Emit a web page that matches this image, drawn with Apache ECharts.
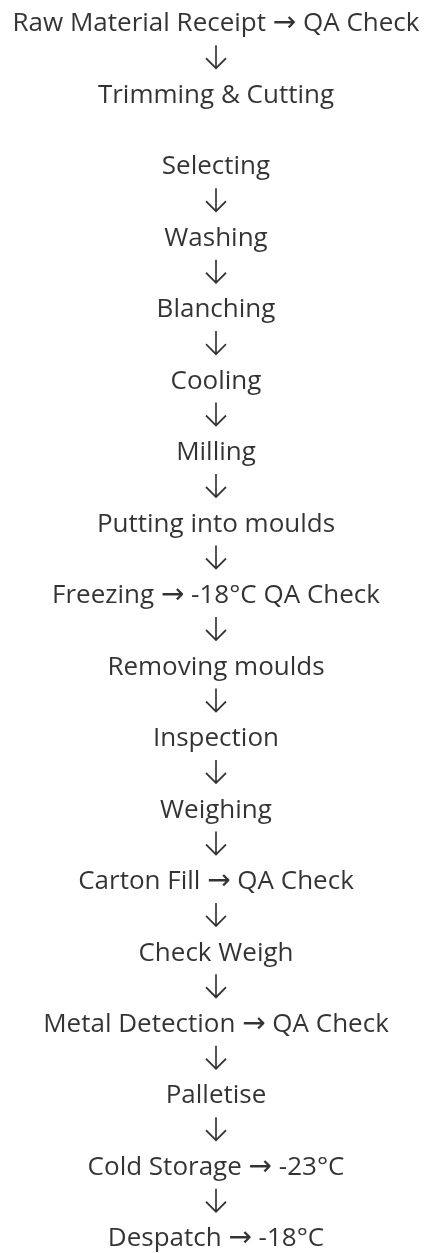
<!DOCTYPE html>
<html>
<head>
<meta charset="utf-8">
<script src="https://cdn.jsdelivr.net/npm/echarts@6/dist/echarts.min.js"></script>
<style>
  html, body { margin: 0; padding: 0; background: #fff; }
  #chart { width: 425px; height: 1253px; }
</style>
</head>
<body>
<div id="chart"></div>
<script>
// process steps, top to bottom
const steps = [
  'Raw Material Receipt → QA Check',
  'Trimming & Cutting',
  'Selecting',
  'Washing',
  'Blanching',
  'Cooling',
  'Milling',
  'Putting into moulds',
  'Freezing → -18°C QA Check',
  'Removing moulds',
  'Inspection',
  'Weighing',
  'Carton Fill → QA Check',
  'Check Weigh',
  'Metal Detection → QA Check',
  'Palletise',
  'Cold Storage → -23°C',
  'Despatch → -18°C'
];
// an arrow is drawn below these steps (none after Trimming & Cutting)
const arrowFrom = [0, 2, 3, 4, 5, 6, 7, 8, 9, 10, 11, 12, 13, 14, 15, 16];

const font = '"Open Sans", "DejaVu Sans", sans-serif';
const arrowFont = '"DejaVu Sans", sans-serif';
// open down arrow: stem plus chevron head
const downArrow = 'path://M10,0L10,23M0,13L10,23L20,13';

const myChart = echarts.init(document.querySelector('#chart'));

const option = {
  animation: false,
  grid: { left: 7, right: 0, top: 24, bottom: 14 },
  xAxis: { type: 'value', min: -1, max: 1, show: false },
  yAxis: { type: 'value', min: 0, max: steps.length - 1, inverse: true, show: false },
  series: [
    {
      name: 'steps',
      type: 'scatter',
      symbolSize: 0,
      itemStyle: { color: 'transparent' },
      data: steps.map((s, i) => ({ name: s, value: [0, i] })),
      label: {
        show: true,
        position: 'inside',
        formatter: p => p.name.split('→').join('{a|→}'),
        color: '#000',
        fontFamily: font,
        fontWeight: 500,
        fontSize: 26,
        rich: {
          a: { fontFamily: arrowFont, fontSize: 28, color: '#000' }
        }
      }
    },
    {
      name: 'arrows',
      type: 'scatter',
      symbol: downArrow,
      symbolSize: [20, 23],
      symbolOffset: [0, -3],
      itemStyle: { color: 'transparent', borderColor: '#000', borderWidth: 1.8 },
      data: arrowFrom.map(i => [0, i + 0.5])
    }
  ]
};

myChart.setOption(option);
</script>
</body>
</html>
